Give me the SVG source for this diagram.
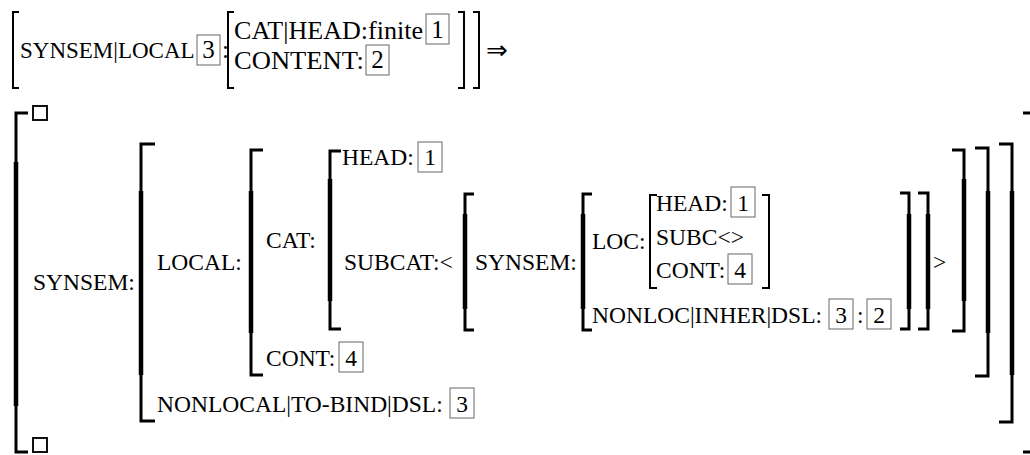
<svg xmlns="http://www.w3.org/2000/svg" width="1030" height="455" viewBox="0 0 1030 455">
<style>
.t{font-family:"Liberation Serif","Times New Roman",serif;font-size:23.5px;fill:#000}
.tt{font-family:"Liberation Serif","Times New Roman",serif;font-size:25px;fill:#000}
.c{text-anchor:middle}
.bx{fill:none;stroke:#666;stroke-width:1}
.thin{fill:none;stroke:#000;stroke-width:2}
.end{fill:none;stroke:#000;stroke-width:3}
.mid{fill:none;stroke:#000;stroke-width:4.5}
.sq{fill:none;stroke:#111;stroke-width:2}
</style>
<rect width="1030" height="455" fill="#fff"/>
<g id="premise">
<path class="thin" d="M19,12 H13 V88 H19"/>
<text class="tt" x="20" y="58" style="font-size:23px">SYNSEM|LOCAL</text>
<rect class="bx" x="197" y="35" width="23" height="30"/><text class="tt c" x="208.5" y="58">3</text>
<text class="tt" x="222" y="58">:</text>
<path class="thin" d="M234,12 H228 V88 H234"/>
<text class="tt" x="234" y="39" textLength="189" lengthAdjust="spacingAndGlyphs">CAT|HEAD:finite</text>
<rect class="bx" x="426" y="14" width="23" height="30"/><text class="tt c" x="437.5" y="38">1</text>
<text class="tt" x="234" y="69" textLength="130" lengthAdjust="spacingAndGlyphs">CONTENT:</text>
<rect class="bx" x="366" y="45" width="23" height="30"/><text class="tt c" x="377.5" y="68">2</text>
<path class="thin" d="M458,12 H464 V88 H458"/>
<path class="thin" d="M473,12 H479 V88 H473"/>
<text x="486" y="59" style="font-family:'DejaVu Sans',sans-serif;font-size:26px">⇒</text>
</g>
<g id="brackets">
<path class="end" d="M28,113 H16 V163 M16,405 V452 H28"/><path class="mid" d="M16,162 V406"/>
<path class="end" d="M1023,113 H1033 M1023,452 H1033"/>
<rect class="sq" x="33" y="106" width="14" height="14"/>
<rect class="sq" x="33" y="438" width="14" height="14"/>
<path class="end" d="M155,144 H141 V192 M141,374 V421 H155"/><path class="mid" d="M141,191 V375"/>
<path class="end" d="M999,144 H1012 V192 M1012,374 V422 H999"/><path class="mid" d="M1012,191 V375"/>
<path class="end" d="M263,150 H251 V192 M251,332 V375 H263"/><path class="mid" d="M251,191 V333"/>
<path class="end" d="M975,148 H988 V192 M988,332 V376 H975"/><path class="mid" d="M988,191 V333"/>
<path class="end" d="M341,151 H330 V180 M330,300 V329 H341"/><path class="mid" d="M330,179 V301"/>
<path class="end" d="M952,150 H964 V180 M964,300 V331 H952"/><path class="mid" d="M964,179 V301"/>
<path class="end" d="M474,194 H465 V215 M465,308 V330 H474"/><path class="mid" d="M465,214 V309"/>
<path class="end" d="M918,193 H928 V215 M928,308 V329 H918"/><path class="mid" d="M928,214 V309"/>
<path class="end" d="M592,194 H583 V215 M583,308 V330 H592"/><path class="mid" d="M583,214 V309"/>
<path class="end" d="M900,193 H909 V215 M909,308 V329 H900"/><path class="mid" d="M909,214 V309"/>
<path class="thin" d="M657,195 H650 V288 H657"/>
<path class="thin" d="M762,195 H769 V288 H762"/>
</g>
<g id="avm">
<text class="t" x="33" y="290">SYNSEM:</text>
<text class="t" x="157" y="270">LOCAL:</text>
<text class="t" x="266" y="248">CAT:</text>
<text class="t" x="342" y="165">HEAD:</text>
<rect class="bx" x="418" y="142" width="24" height="30"/><text class="t c" x="430" y="165">1</text>
<text class="t" x="344" y="270">SUBCAT:&lt;</text>
<text class="t" x="475" y="270">SYNSEM:</text>
<text class="t" x="592" y="249">LOC:</text>
<text class="t" x="656" y="211">HEAD:</text>
<rect class="bx" x="731" y="187" width="24" height="30"/><text class="t c" x="743" y="211">1</text>
<text class="t" x="656" y="245">SUBC&lt;&gt;</text>
<text class="t" x="656" y="278">CONT:</text>
<rect class="bx" x="728" y="254" width="24" height="30"/><text class="t c" x="740" y="278">4</text>
<text class="t" x="592" y="323">NONLOC|INHER|DSL:</text>
<rect class="bx" x="829" y="299" width="24" height="30"/><text class="t c" x="841" y="323">3</text>
<text class="t" x="857" y="323">:</text>
<rect class="bx" x="867" y="299" width="24" height="30"/><text class="t c" x="879" y="323">2</text>
<text class="t" x="933" y="270">&gt;</text>
<text class="t" x="266" y="366">CONT:</text>
<rect class="bx" x="339" y="342" width="24" height="30"/><text class="t c" x="351" y="366">4</text>
<text class="t" x="157" y="412">NONLOCAL|TO-BIND|DSL:</text>
<rect class="bx" x="450" y="388" width="24" height="30"/><text class="t c" x="462" y="412">3</text>
</g>
</svg>
